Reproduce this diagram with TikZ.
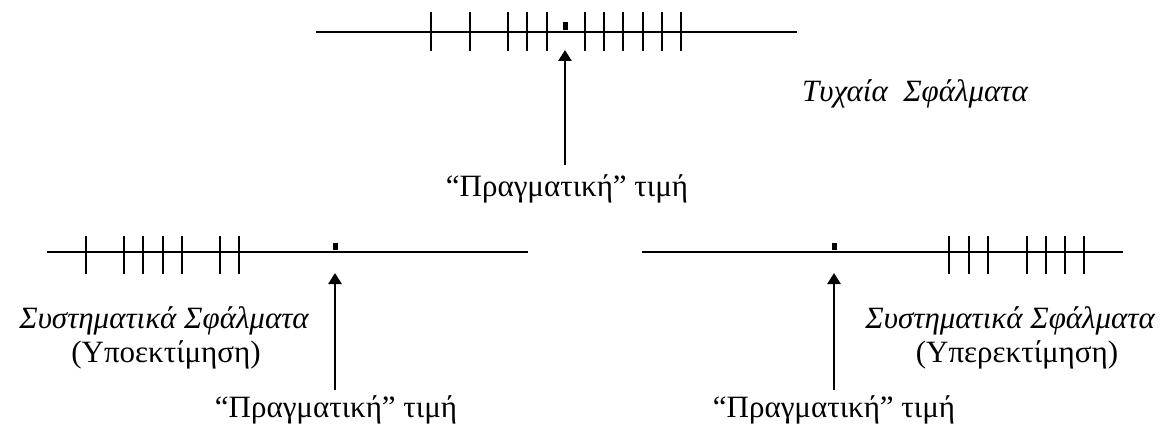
\documentclass[tikz,border=0pt]{standalone}
\usepackage{fontspec}
\setmainfont{Liberation Serif}
\usetikzlibrary{arrows.meta}
\begin{document}
\begin{tikzpicture}[x=1pt,y=-1pt,
  axis/.style={line width=1.3pt},
  tickmark/.style={line width=1.3pt},
  truemark/.style={fill=black},
  arr/.style={line width=2.6pt,-{Triangle[width=13pt,length=11pt]}},
  lbl/.style={anchor=base,font=\fontsize{31}{37}\selectfont,inner sep=0pt},
  itlbl/.style={lbl,font=\fontsize{31}{37}\selectfont\itshape}]
\useasboundingbox (0,0) rectangle (1161,430);
% top: random errors
\coordinate (tl) at (316,32); \coordinate (tr) at (797,32);
\draw[axis] (tl) -- (tr);
\foreach \x in {431,470,508,527,547,585,604,623,643,662,681}
  \draw[tickmark] (\x,12) -- (\x,51);
\fill[truemark] (563,22) rectangle (568,30);
\coordinate (ta1) at (565,165); \coordinate (ta2) at (565,50);
\draw[arr] (ta1) -- (ta2);
\node[lbl] (tval) at (567,197) {“Πραγματική” τιμή};
\node[itlbl,anchor=base west] (rand) at (802,102) {Τυχαία\ \ Σφάλματα};
% bottom left: underestimation
\coordinate (ll) at (47,252); \coordinate (lr) at (528,252);
\draw[axis] (ll) -- (lr);
\foreach \x in {86,124,143,163,182,220,239}
  \draw[tickmark] (\x,236) -- (\x,274);
\fill[truemark] (333,243) rectangle (338,250);
\coordinate (la1) at (335,390); \coordinate (la2) at (335,273);
\draw[arr] (la1) -- (la2);
\node[lbl] (lval) at (336,417) {“Πραγματική” τιμή};
\node[itlbl] (lsys) at (164,328) {Συστηματικά Σφάλματα};
\node[lbl] (lund) at (166,362) {(Υποεκτίμηση)};
% bottom right: overestimation
\coordinate (rl) at (642,252); \coordinate (rr) at (1123,252);
\draw[axis] (rl) -- (rr);
\foreach \x in {949,969,988,1027,1046,1065,1084}
  \draw[tickmark] (\x,236) -- (\x,274);
\fill[truemark] (832,243) rectangle (837,250);
\coordinate (ra1) at (834,390); \coordinate (ra2) at (834,273);
\draw[arr] (ra1) -- (ra2);
\node[lbl] (rval) at (834,417) {“Πραγματική” τιμή};
\node[itlbl,anchor=base east] (rsys) at (1155,328) {Συστηματικά Σφάλματα};
\node[lbl] (rover) at (1017,362) {(Υπερεκτίμηση)};
\end{tikzpicture}
\end{document}
